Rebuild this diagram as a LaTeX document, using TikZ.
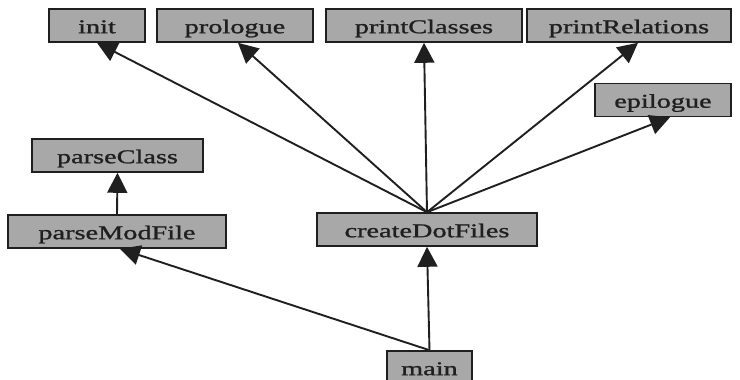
\documentclass[tikz,border=0pt]{standalone}
\usepackage{fontspec}
\setmainfont{Liberation Serif}
\newfontfamily\labelfont[FakeStretch=1.45,FakeBold=1.2]{Liberation Serif}
\usetikzlibrary{arrows.meta}
\definecolor{boxfill}{gray}{0.66}
\definecolor{ink}{gray}{0.12}
\tikzset{
  fn/.style={draw=ink, line width=1.6pt, fill=boxfill, text=ink,
    font=\labelfont\fontsize{19.5}{22}\selectfont, inner sep=0pt,
    minimum height=33pt, text height=18pt, text depth=2.6pt, anchor=center},
  call/.style={draw=ink, line width=1.9pt,
    -{Triangle[length=20pt,width=20pt]}}
}
\begin{document}
\begin{tikzpicture}[x=1pt,y=-1pt]
\useasboundingbox (0,0) rectangle (740,380);
% top row
\node[fn, minimum width=96pt]  (init)  at (97,25.5)  {init};
\node[fn, minimum width=156pt] (prol)  at (235,25.5) {prologue};
\node[fn, minimum width=196pt] (pcls)  at (424,25.5) {printClasses};
\node[fn, minimum width=204pt] (prel)  at (629,25.5) {printRelations};
\node[fn, minimum width=136pt] (epil)  at (663,100)  {epilogue};
% left branch
\node[fn, minimum width=171pt] (pcl)   at (117.5,155.5) {parseClass};
\node[fn, minimum width=218pt] (pmf)   at (117,231.5)   {parseModFile};
% middle
\node[fn, minimum width=220pt] (cdf)   at (427,229.5)   {createDotFiles};
\node[fn, minimum width=85pt]  (main)  at (429.5,367.5) {main};
% calls
\draw[call] (cdf.north) -- (init.south);
\draw[call] (cdf.north) -- ([xshift=3pt]prol.south);
\draw[call] (cdf.north) -- (pcls.south);
\draw[call] (cdf.north) -- ([xshift=9pt]prel.south);
\draw[call] (cdf.north) -- ([xshift=7pt]epil.south);
\draw[call] (pmf.north) -- (pcl.south);
\draw[call] (main.north) -- ([xshift=3pt]pmf.south);
\draw[call] (main.north) -- (cdf.south);
\end{tikzpicture}
\end{document}
